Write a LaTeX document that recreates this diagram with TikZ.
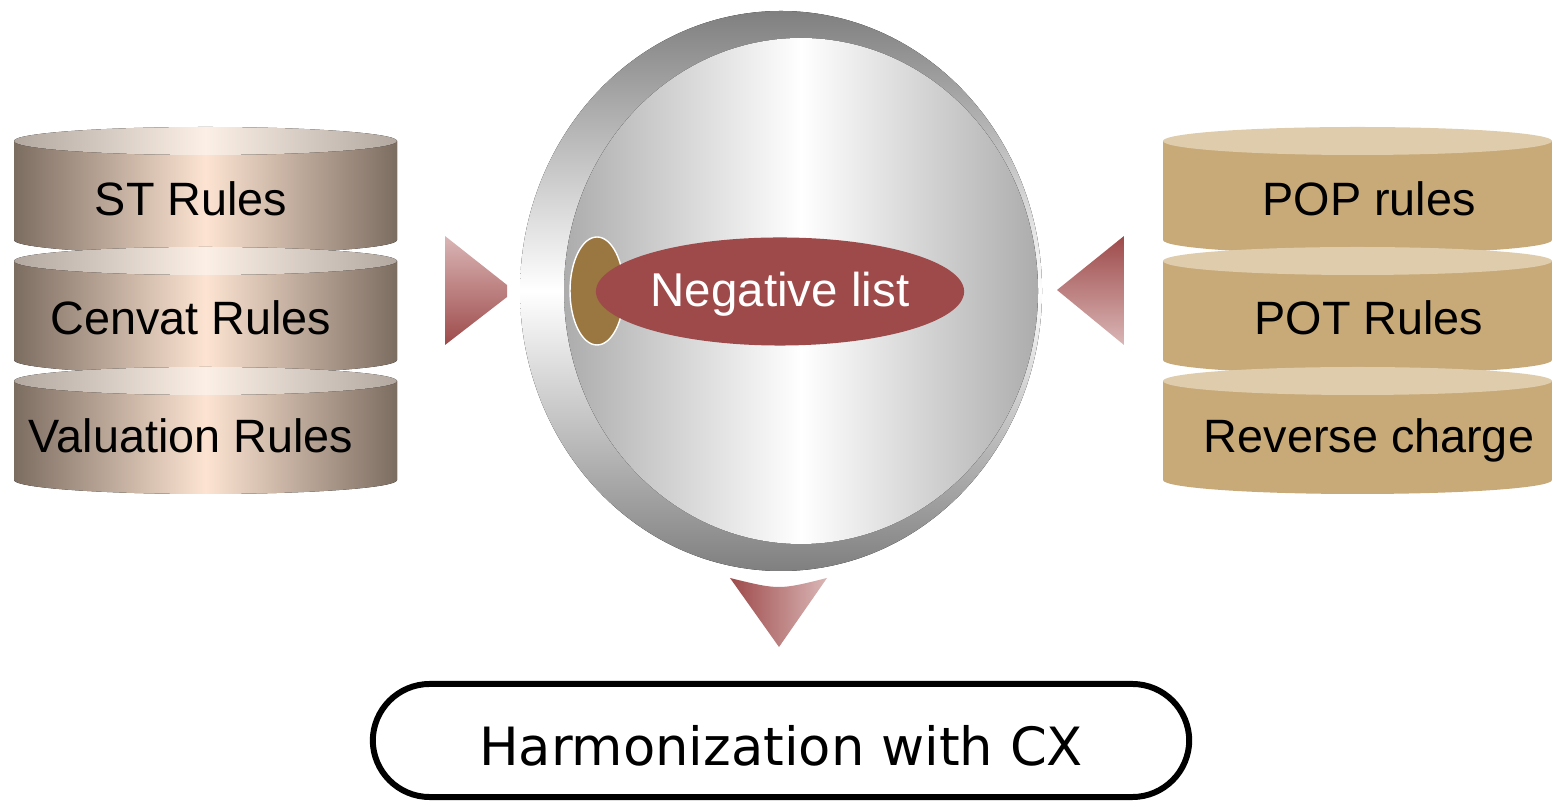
\documentclass[tikz,border=0pt]{standalone}
\usepackage{fontspec}
\setmainfont{Liberation Sans}
\newfontfamily\boxfont{DejaVu Sans}
\usetikzlibrary{shapes.geometric,positioning}
\definecolor{taupe}{RGB}{124,109,97}
\definecolor{peach}{RGB}{253,228,210}
\definecolor{taupetop}{RGB}{178,168,160}
\definecolor{peachtop}{RGB}{252,240,230}
\definecolor{sand}{RGB}{200,169,120}
\definecolor{sandtop}{RGB}{222,204,172}
\definecolor{wine}{RGB}{158,74,74}
\definecolor{rose}{RGB}{218,182,182}
\definecolor{ochre}{RGB}{154,118,64}
\begin{document}
\begin{tikzpicture}[x=0.01cm,y=-0.01cm,
	lbl/.style={anchor=base,font=\fontsize{13.3}{16}\selectfont}]
	\useasboundingbox (0,0) rectangle (1552,804);
	% left stack
	\foreach \i/\t/\n in {0/ST Rules/st,1/Cenvat Rules/cenvat,2/Valuation Rules/valuation}{
		\pgfmathsetmacro\yt{141+120*\i}
		\fill[left color=taupe,right color=taupe,middle color=peach] (14,\yt) -- (14,\yt+99) arc[start angle=180,end angle=0,x radius=191.5,y radius=14] -- (397,\yt) -- cycle;
		\fill[left color=taupetop,right color=taupetop,middle color=peachtop] (205.5,\yt) ellipse [x radius=191.5,y radius=14];
		\node[lbl] (\n) at (191,216+118.5*\i) {\t};
	}
	% right stack
	\foreach \i/\t/\n in {0/POP rules/pop,1/POT Rules/pot,2/Reverse charge/reverse}{
		\pgfmathsetmacro\yt{141+120*\i}
		\fill[sand] (1163,\yt) -- (1163,\yt+99) arc[start angle=180,end angle=0,x radius=194.5,y radius=14] -- (1552,\yt) -- cycle;
		\fill[sandtop] (1357.5,\yt) ellipse [x radius=194.5,y radius=14];
		\node[lbl] (\n) at (1369,216+118.5*\i) {\t};
	}
	% lens
	\fill[top color=gray,bottom color=gray,middle color=white] (781,291) ellipse [x radius=261,y radius=280];
	\fill[left color=gray!65,right color=gray!65,middle color=white] (801,291) ellipse [x radius=237,y radius=253];
	\draw[white,fill=ochre,line width=0.4pt] (597,291) ellipse [x radius=27,y radius=54];
	\node[ellipse,fill=wine,minimum width=3.68cm,minimum height=1.08cm,inner sep=0,text=white,
		text height=8.5pt,text depth=0pt,font=\fontsize{13.5}{16}\selectfont] (neg) at (780,291.5) {Negative list};
	% arrows
	\shade[top color=rose,bottom color=wine] (445,236) -- (507,285) -- (507,297) -- (445,345) -- cycle;
	\shade[top color=wine,bottom color=rose] (1124,236) -- (1057,290) -- (1124,345) -- cycle;
	\shade[left color=wine,right color=rose] (730,578) .. controls (779,590) .. (827,578) -- (779,647) -- cycle;
	\node[draw,line width=1.7pt,rounded corners=0.57cm,minimum width=8.16cm,minimum height=1.13cm,
		text height=14pt,text depth=0pt,font=\boxfont\fontsize{15}{18}\selectfont] (harm) at (781,740.5) {Harmonization with CX};
\end{tikzpicture}
\end{document}
